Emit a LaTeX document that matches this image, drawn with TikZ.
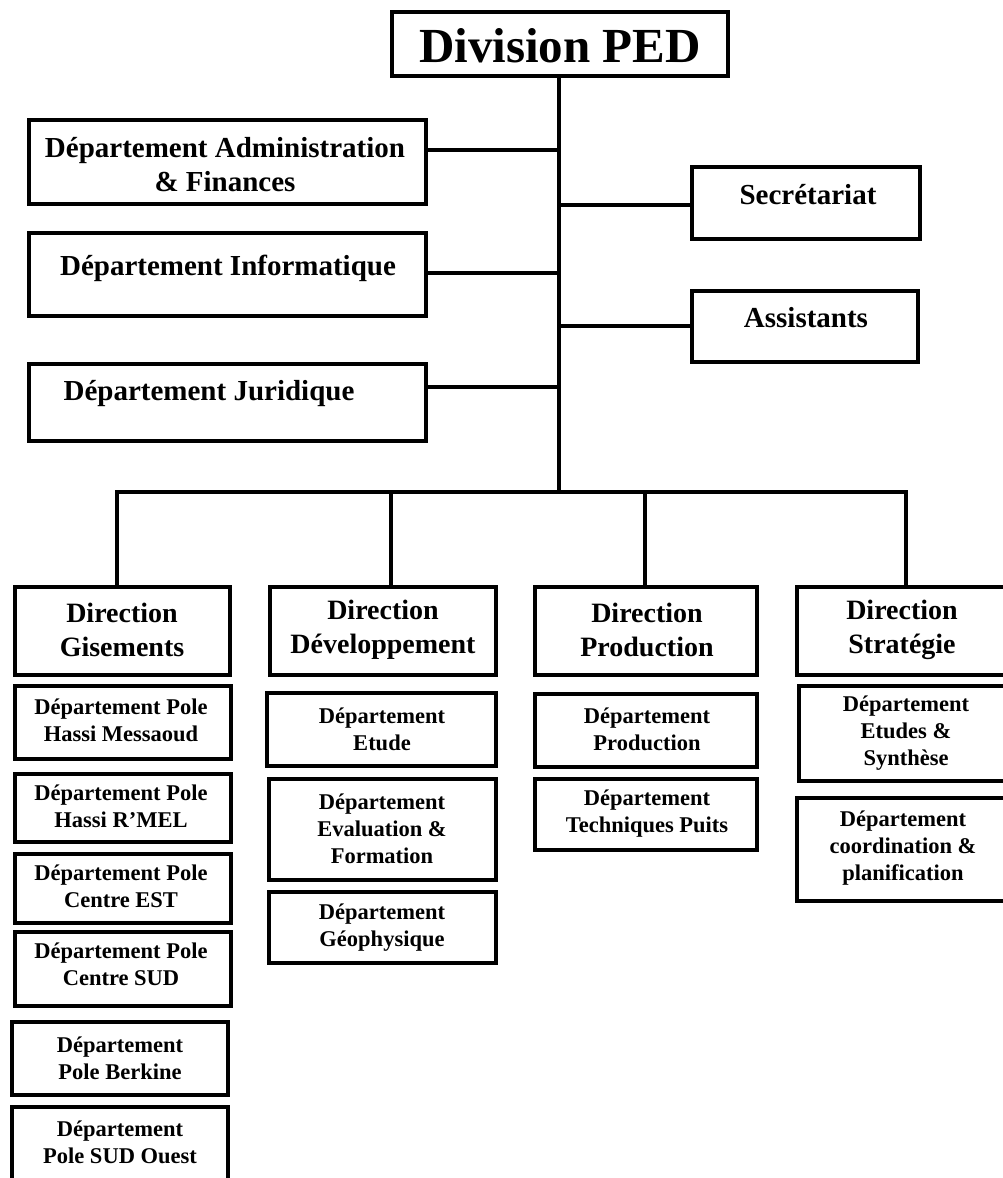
\documentclass[tikz,border=0pt]{standalone}
\usepackage{fontspec}
\setmainfont{Liberation Serif}
\newcommand\pedfont{\fontsize{49}{52}\selectfont\bfseries}
\newcommand\topfont{\fontsize{29}{34}\selectfont\bfseries}
\newcommand\dirfont{\fontsize{28}{34}\selectfont\bfseries}
\newcommand\depfont{\fontsize{22.5}{27}\selectfont\bfseries}
\tikzset{
  boxbase/.style={draw=black, rectangle, inner sep=0pt, outer sep=0pt},
  topbox/.style={boxbase, line width=4.2pt},
  lowbox/.style={boxbase, line width=3.6pt},
  link/.style={draw=black, line width=3.2pt},
  toptxt/.style={inner sep=0pt, align=center, font=\topfont},
  dirtxt/.style={inner sep=0pt, align=center, font=\dirfont},
  deptxt/.style={inner sep=0pt, align=center, font=\depfont},
}
\begin{document}
\begin{tikzpicture}[x=1pt,y=-1pt]
\useasboundingbox (0,0) rectangle (1002,1178);
% ---- top level
\node[topbox, minimum width=336, minimum height=64] (ped) at (560,44) {};
\node[inner sep=0pt, font=\pedfont] (pedt) at (560,46) {Division PED};

\node[topbox, minimum width=397, minimum height=84] (adm) at (227.5,162) {};
\node[toptxt] (admt) at (225,165) {Département Administration\\\& Finances};
\node[topbox, minimum width=397, minimum height=83] (inf) at (227.5,274.5) {};
\node[toptxt] (inft) at (228,268) {Département Informatique};
\node[topbox, minimum width=397, minimum height=77] (jur) at (227.5,402.5) {};
\node[toptxt] (jurt) at (209,394) {Département Juridique};
\node[topbox, minimum width=228, minimum height=72] (sec) at (806,203) {};
\node[toptxt] (sect) at (808,195) {Secrétariat};
\node[topbox, minimum width=226, minimum height=71] (ass) at (805,326.5) {};
\node[toptxt] (asst) at (806,318) {Assistants};

\coordinate (spine) at (559,492);
\draw[link] (ped.south -| spine) -- (spine);
\draw[link] (adm.east |- 0,150) -- (spine |- 0,150);
\draw[link] (inf.east |- 0,273) -- (spine |- 0,273);
\draw[link] (jur.east |- 0,387) -- (spine |- 0,387);
\draw[link] (sec.west |- 0,205) -- (spine |- 0,205);
\draw[link] (ass.west |- 0,326) -- (spine |- 0,326);

% ---- directions
\node[lowbox, minimum width=215, minimum height=88] (dgis) at (122.5,631) {};
\node[dirtxt] (dgist) at (122,630) {Direction\\Gisements};
\node[lowbox, minimum width=226, minimum height=88] (ddev) at (383,631) {};
\node[dirtxt] (ddevt) at (383,630) {Direction\\Développement};
\node[lowbox, minimum width=222, minimum height=88] (dprod) at (646,631) {};
\node[dirtxt] (dprodt) at (647,630) {Direction\\Production};
\node[lowbox, minimum width=211, minimum height=88] (dstrat) at (902.5,631) {};
\node[dirtxt] (dstratt) at (902,630) {Direction\\Stratégie};

\draw[link] (spine) -- (117,492) -- (117,492 |- dgis.north);
\draw[link] (spine) -- (906,492) -- (906,492 |- dstrat.north);
\draw[link] (391,492) -- (391,492 |- ddev.north);
\draw[link] (645,492) -- (645,492 |- dprod.north);

% ---- Gisements departments
\node[lowbox, minimum width=216, minimum height=73] (hm) at (123,722.5) {};
\node[deptxt] (hmt) at (121,720) {Département Pole\\Hassi Messaoud};
\node[lowbox, minimum width=216, minimum height=68] (rm) at (123,808) {};
\node[deptxt] (rmt) at (121,806) {Département Pole\\Hassi R’MEL};
\node[lowbox, minimum width=216, minimum height=69] (ce) at (123,888.5) {};
\node[deptxt] (cet) at (121,886) {Département Pole\\Centre EST};
\node[lowbox, minimum width=216, minimum height=74] (cs) at (123,969) {};
\node[deptxt] (cst) at (121,964) {Département Pole\\Centre SUD};
\node[lowbox, minimum width=216, minimum height=73] (bk) at (120,1058.5) {};
\node[deptxt] (bkt) at (120,1058) {Département\\Pole Berkine};
\node[lowbox, minimum width=216, minimum height=81] (so) at (120,1147.5) {};
\node[deptxt] (sot) at (120,1142) {Département\\Pole SUD Ouest};

% ---- Developpement departments
\node[lowbox, minimum width=229, minimum height=73] (et) at (381.5,729.5) {};
\node[deptxt] (ett) at (382,729) {Département\\Etude};
\node[lowbox, minimum width=227, minimum height=101] (ev) at (382.5,829.5) {};
\node[deptxt] (evt) at (382,829) {Département\\Evaluation \&\\Formation};
\node[lowbox, minimum width=227, minimum height=71] (geo) at (382.5,927.5) {};
\node[deptxt] (geot) at (382,928) {Département\\Géophysique};

% ---- Production departments
\node[lowbox, minimum width=222, minimum height=73] (pr) at (646,730.5) {};
\node[deptxt] (prt) at (647,729) {Département\\Production};
\node[lowbox, minimum width=222, minimum height=71] (tp) at (646,814.5) {};
\node[deptxt] (tpt) at (647,814) {Département\\Techniques Puits};

% ---- Strategie departments
\node[lowbox, minimum width=209, minimum height=95] (es) at (903.5,733.5) {};
\node[deptxt] (est) at (906,733) {Département\\Etudes \&\\Synthèse};
\node[lowbox, minimum width=211, minimum height=103] (co) at (902.5,849.5) {};
\node[deptxt] (cot) at (903,848) {Département\\coordination \&\\planification};
\end{tikzpicture}
\end{document}
